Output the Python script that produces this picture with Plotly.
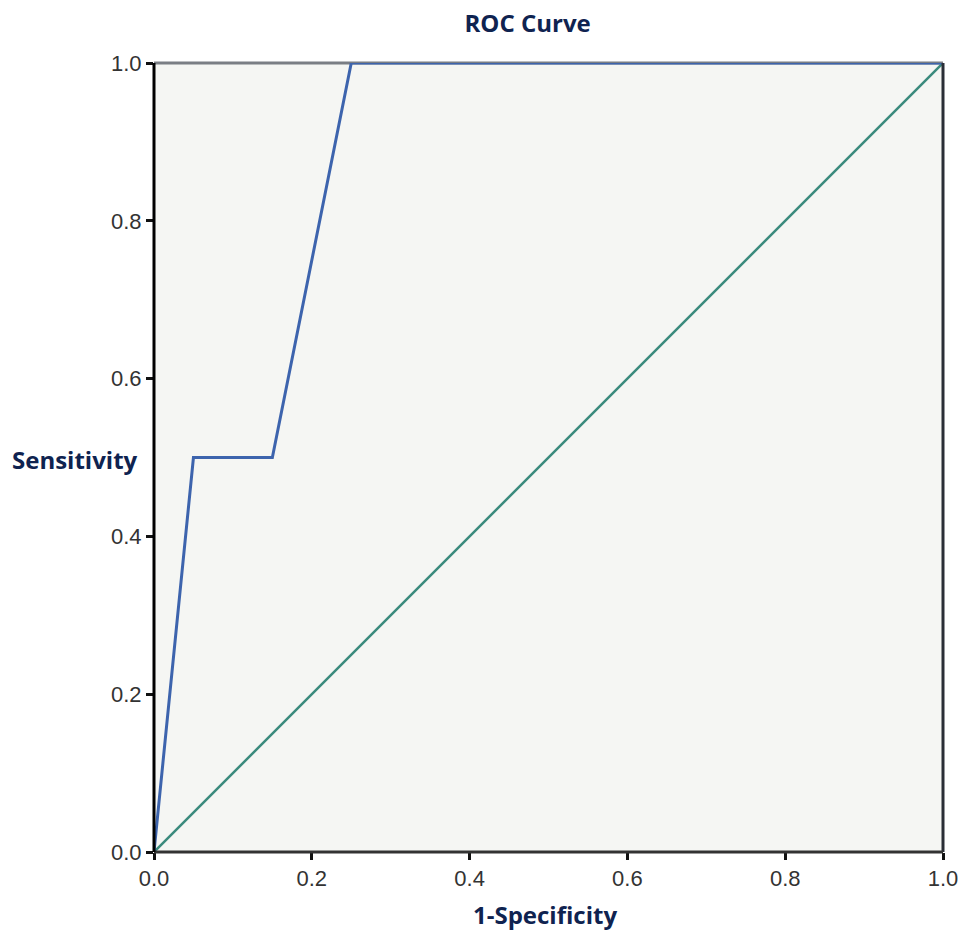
import plotly.graph_objects as go

roc_fpr = [0.0, 0.05, 0.15, 0.25, 1.0]
roc_tpr = [0.0, 0.5, 0.5, 1.0, 1.0]
ref_x = [0.0, 1.0]
ref_y = [0.0, 1.0]
tick_vals = [0.0, 0.2, 0.4, 0.6, 0.8, 1.0]
tick_text = ["0.0", "0.2", "0.4", "0.6", "0.8", "1.0"]

navy = "#0f2350"
fig = go.Figure()
fig.add_trace(go.Scatter(x=ref_x, y=ref_y, mode="lines",
                         line=dict(color="#3a8a7c", width=2.5), hoverinfo="skip"))
fig.add_trace(go.Scatter(x=roc_fpr, y=roc_tpr, mode="lines",
                         line=dict(color="#3d64ad", width=3), hoverinfo="skip"))

# frame
fig.add_shape(type="line", xref="paper", yref="paper", x0=0, x1=1, y0=1, y1=1,
              line=dict(color="#7a7e84", width=3), layer="below")
fig.add_shape(type="line", xref="paper", yref="paper", x0=1, x1=1, y0=0, y1=1,
              line=dict(color="#2a2e36", width=3))
fig.add_shape(type="line", xref="paper", yref="paper", x0=0, x1=1, y0=0, y1=0,
              line=dict(color="#333333", width=3))
fig.add_shape(type="line", xref="paper", yref="paper", x0=0, x1=0, y0=0, y1=1,
              line=dict(color="#000000", width=3))

axis_common = dict(range=[0, 1], tickvals=tick_vals, ticktext=tick_text,
                   showgrid=False, zeroline=False, ticks="outside", ticklen=7,
                   tickwidth=2.5, tickcolor="#111111", automargin=False,
                   tickfont=dict(family="Liberation Sans, Arial", size=22, color="#333333"),
                   showline=False, fixedrange=True)
fig.update_xaxes(**axis_common, ticklabeloverflow="allow")
fig.update_yaxes(**axis_common)

title_font = dict(family="Open Sans, Noto Sans", size=24, color=navy)
fig.add_annotation(text="<b>Sensitivity</b>", xref="paper", yref="paper",
                   x=-0.1, y=0.497, xanchor="center", yanchor="middle", showarrow=False,
                   font=title_font)
fig.add_annotation(text="<b>1-Specificity</b>", xref="paper", yref="paper",
                   x=0.4956, y=-0.0798, xanchor="center", yanchor="middle", showarrow=False,
                   font=title_font)

fig.update_layout(
    width=961, height=931,
    margin=dict(l=154, r=18, t=63, b=79, autoexpand=False),
    title=dict(text="<b>ROC Curve</b>", x=0.549, xanchor="center", y=0.9742, yanchor="middle",
               font=dict(family="Open Sans, Noto Sans", size=24, color=navy)),
    paper_bgcolor="#ffffff", plot_bgcolor="#f5f6f3",
    showlegend=False,
)
fig.write_html("out.html", config={"displayModeBar": False},
               post_script="document.body.style.margin='0px';")
